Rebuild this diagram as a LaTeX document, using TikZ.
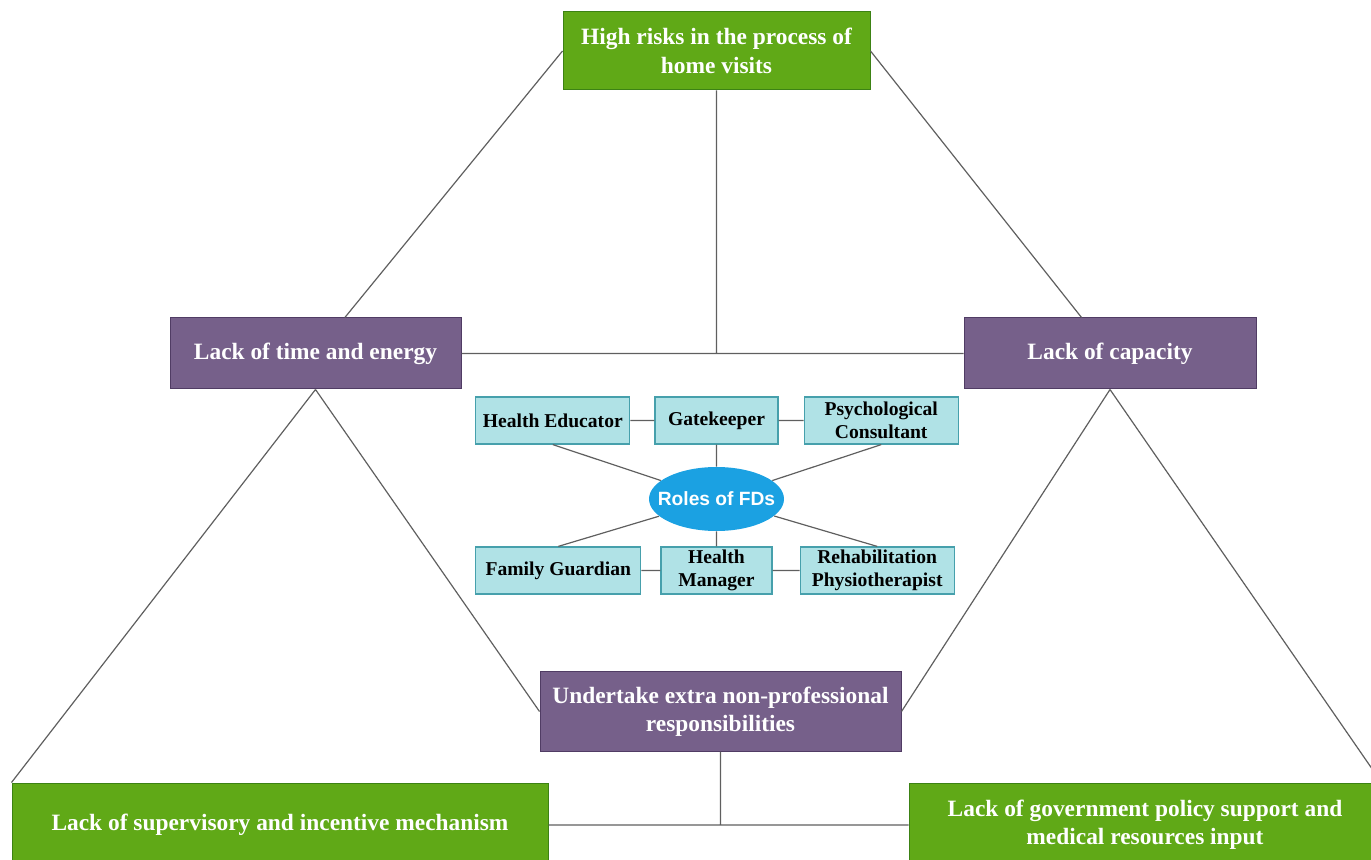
\documentclass[tikz,border=0pt]{standalone}
\usepackage{fontspec}
\setmainfont{Liberation Serif}
\newfontfamily\rolesfont{Liberation Sans}
\usetikzlibrary{shapes.geometric, positioning}
\definecolor{fdgreen}{RGB}{96,169,23}
\definecolor{fdgreenline}{RGB}{60,130,20}
\definecolor{fdpurple}{RGB}{118,96,138}
\definecolor{fdpurpleline}{RGB}{80,60,100}
\definecolor{fdcyan}{RGB}{176,226,230}
\definecolor{fdcyanline}{RGB}{70,160,172}
\definecolor{fdblue}{RGB}{27,161,226}
\definecolor{fdlink}{RGB}{95,95,95}
\tikzset{
x=0.5pt, y=-0.5pt, % one unit is one pixel of the layout
link/.style={draw=fdlink, line width=0.6pt}, % plain undirected connectors
bigbox/.style={rectangle, inner sep=0pt, text=white, align=center, font=\bfseries\fontsize{11.7}{14.2}\selectfont}, % the problem boxes
greenbox/.style={bigbox, fill=fdgreen, draw=fdgreenline, line width=0.5pt}, % green problems
purplebox/.style={bigbox, fill=fdpurple, draw=fdpurpleline, line width=0.5pt}, % purple problems
rolebox/.style={rectangle, inner sep=0pt, minimum height=23.5pt, fill=fdcyan, draw=fdcyanline, line width=0.6pt, align=center, font=\bfseries\fontsize{9.8}{11.5}\selectfont}, % the roles
rolesellipse/.style={ellipse, inner xsep=-5.7pt, inner ysep=0pt, minimum width=67.5pt, minimum height=32pt, fill=fdblue, text=white, font=\rolesfont\bfseries\fontsize{9.6}{11}\selectfont}, % centre
}

\begin{document}
\begin{tikzpicture}
      \useasboundingbox (0,0) rectangle (1371,860);
      \clip (0,0) rectangle (1371,860);

      % problem boxes
      \node[greenbox, minimum width=153.5pt, minimum height=39pt] (risk) at (716.5,51) {High risks in the process of\\home visits};
      \node[purplebox, minimum width=145.5pt, minimum height=35.5pt] (time) at (315.5,353.5) {Lack of time and energy};
      \node[purplebox, minimum width=146pt, minimum height=35.5pt] (capacity) at (1110,353.5) {Lack of capacity};
      \node[purplebox, minimum width=180.5pt, minimum height=39.5pt] (extra) at (720.5,711.5) {Undertake extra non-professional\\responsibilities};
      \node[greenbox, minimum width=268pt, minimum height=42pt] (supervise) at (280,825) {Lack of supervisory and incentive mechanism};
      \node[greenbox, minimum width=236pt, minimum height=42pt] (policy) at (1145,825) {Lack of government policy support and\\medical resources input};

      % roles
      \node[rolesellipse] (roles) at (716.5,499) {Roles of FDs};
      \node[rolebox, minimum width=61.5pt] (gatekeeper) at (716.5,420.5) {Gatekeeper};
      \node[rolebox, minimum width=77pt, left=12pt of gatekeeper] (educator) {Health Educator};
      \node[rolebox, minimum width=77pt, right=12.5pt of gatekeeper] (psych) {Psychological\\Consultant};
      \node[rolebox, minimum width=55.5pt] (manager) at (716.5,570.5) {Health\\Manager};
      \node[rolebox, minimum width=82.5pt, left=9.5pt of manager] (guardian) {Family Guardian};
      \node[rolebox, minimum width=77pt, right=13.5pt of manager] (rehab) {Rehabilitation\\Physiotherapist};

      \draw[link] (risk.west) -- (time)
      (risk.east) -- (capacity)
      (risk.south) -- (risk.south |- time.east)
      (time.east) -- (capacity.west)
      (time.south) -- (supervise.north west)
      (time.south) -- (extra.west)
      (capacity.south) -- (extra.east)
      (capacity.south) -- (policy.north east)
      (extra.south) -- (extra.south |- supervise.east)
      (supervise.east) -- (policy.west);

      \draw[link] (educator) -- (gatekeeper)
      (gatekeeper) -- (psych)
      (gatekeeper) -- (roles)
      (educator.south) -- (roles)
      (psych.south) -- (roles)
      (guardian) -- (manager)
      (manager) -- (rehab)
      (manager) -- (roles)
      (guardian.north) -- (roles)
      (rehab.north) -- (roles);
\end{tikzpicture}
\end{document}
